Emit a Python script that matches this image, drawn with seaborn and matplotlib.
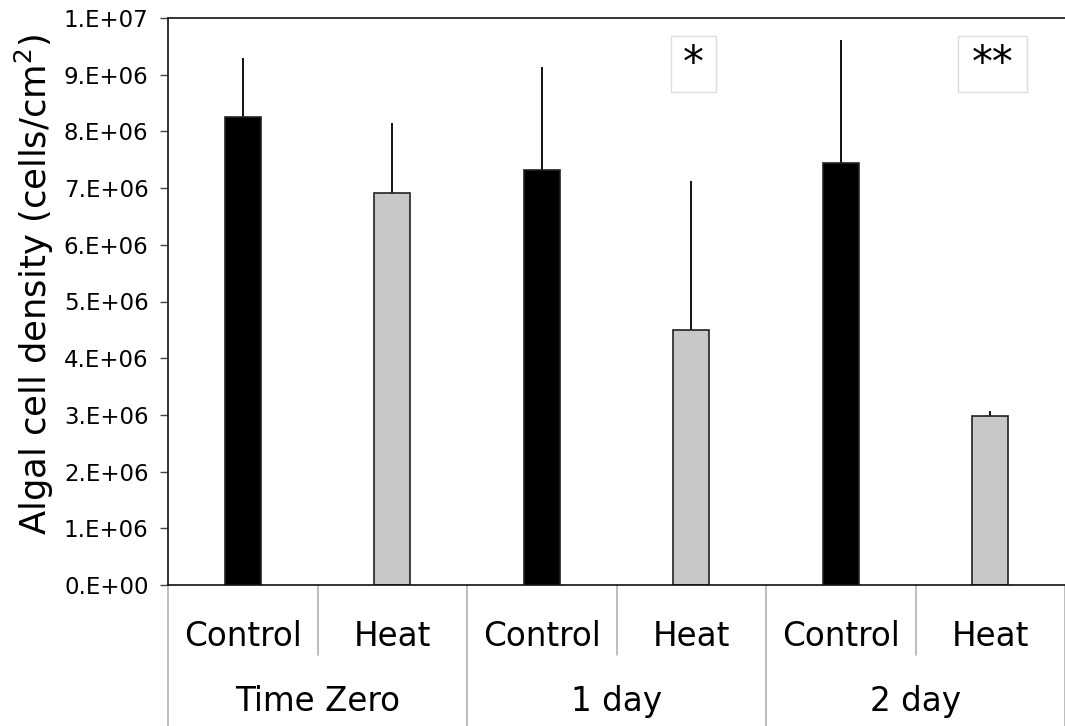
import matplotlib
matplotlib.use("Agg")
import matplotlib.pyplot as plt
import matplotlib.transforms as mtransforms
from matplotlib.patches import Rectangle
import seaborn as sns
import pandas as pd

# ---- data ----
groups = ["Time Zero", "Time Zero", "1 day", "1 day", "2 day", "2 day"]
treatments = ["Control", "Heat", "Control", "Heat", "Control", "Heat"]
bar_ids = ["TZ-C", "TZ-H", "D1-C", "D1-H", "D2-C", "D2-H"]
means = [8.26e6, 6.91e6, 7.32e6, 4.50e6, 7.44e6, 2.98e6]
upper_err = [1.04e6, 1.23e6, 1.82e6, 2.62e6, 2.17e6, 0.09e6]
group_names = ["Time Zero", "1 day", "2 day"]
signif = {"D1-H": "*", "D2-H": "**"}
yticks = [0, 1e6, 2e6, 3e6, 4e6, 5e6, 6e6, 7e6, 8e6, 9e6, 1e7]
ytick_labels = ["0.E+00", "1.E+06", "2.E+06", "3.E+06", "4.E+06", "5.E+06",
                "6.E+06", "7.E+06", "8.E+06", "9.E+06", "1.E+07"]

df = pd.DataFrame({"bar": bar_ids, "treatment": treatments, "group": groups,
                   "mean": means})

sns.set_style("white")
plt.rcParams["font.family"] = ["DejaVu Sans"]
plt.rcParams["text.color"] = "black"
plt.rcParams["axes.labelcolor"] = "black"
plt.rcParams["ytick.color"] = "black"
plt.rcParams["xtick.color"] = "black"

fig = plt.figure(figsize=(10.65, 7.26), dpi=100)
ax = fig.add_axes([168 / 1065, (726 - 585) / 726, (1065 - 168) / 1065, (585 - 18) / 726])

palette = {"Control": "#000000", "Heat": "#c8c8c8"}
sns.barplot(data=df, x="bar", y="mean", hue="treatment", palette=palette,
            dodge=False, width=0.24, edgecolor="#222222", linewidth=1.2,
            legend=False, ax=ax, errorbar=None)

# error bars (upper only)
xs = list(range(len(bar_ids)))
ax.errorbar(xs, means, yerr=[[0] * len(means), upper_err], fmt="none",
            ecolor="#111111", elinewidth=1.4, capsize=0, zorder=1)
for p in ax.patches:
    p.set_zorder(2)

ax.set_xlim(-0.5, len(bar_ids) - 0.5)
ax.set_ylim(0, 1e7)
ax.set_yticks(yticks)
ax.set_yticklabels(ytick_labels, fontsize=16.5)
ax.tick_params(axis="y", direction="out", length=6, width=1, color="#444444",
               left=True, pad=8)
ax.set_xticks([])
ax.set_xlabel("")
ax.set_ylabel("Algal cell density (cells/cm$^2$)", fontsize=25.5)
ax.yaxis.set_label_coords(-0.125, 0.53)

for s in ["left", "bottom", "top"]:
    ax.spines[s].set_visible(True)
    ax.spines[s].set_color("#111111")
    ax.spines[s].set_linewidth(1.2)
ax.spines["right"].set_visible(False)

# category axis: labels and separators
trans = mtransforms.blended_transform_factory(ax.transData, ax.transAxes)
minor_len = -(655 - 585) / 567
major_len = -(726 - 585) / 567
for i, t in enumerate(treatments):
    ax.text(i, -0.09, t, transform=trans, ha="center", va="center", fontsize=23.5)
for j, g in enumerate(group_names):
    ax.text(2 * j + 0.5, -0.205, g, transform=trans, ha="center", va="center",
            fontsize=23.5)
for k in range(len(bar_ids) + 1):
    xb = k - 0.5
    yl = major_len if k % 2 == 0 else minor_len
    ax.plot([xb, xb], [0, yl], transform=trans, color="#b0b0b0", lw=1.2,
            clip_on=False)

# significance boxes
for i, b in enumerate(bar_ids):
    if b in signif:
        txt = signif[b]
        w = 0.30 if len(txt) == 1 else 0.46
        ax.add_patch(Rectangle((i - w / 2 + 0.015, (585 - 92) / 567), w, 56 / 567,
                               transform=trans, facecolor="white",
                               edgecolor="#dddddd", lw=1, clip_on=False, zorder=3))
        ax.text(i + 0.015, (585 - 64) / 567, txt, transform=trans, ha="center",
                va="center", fontsize=30, zorder=4)

fig.savefig("out.png", dpi=100)
